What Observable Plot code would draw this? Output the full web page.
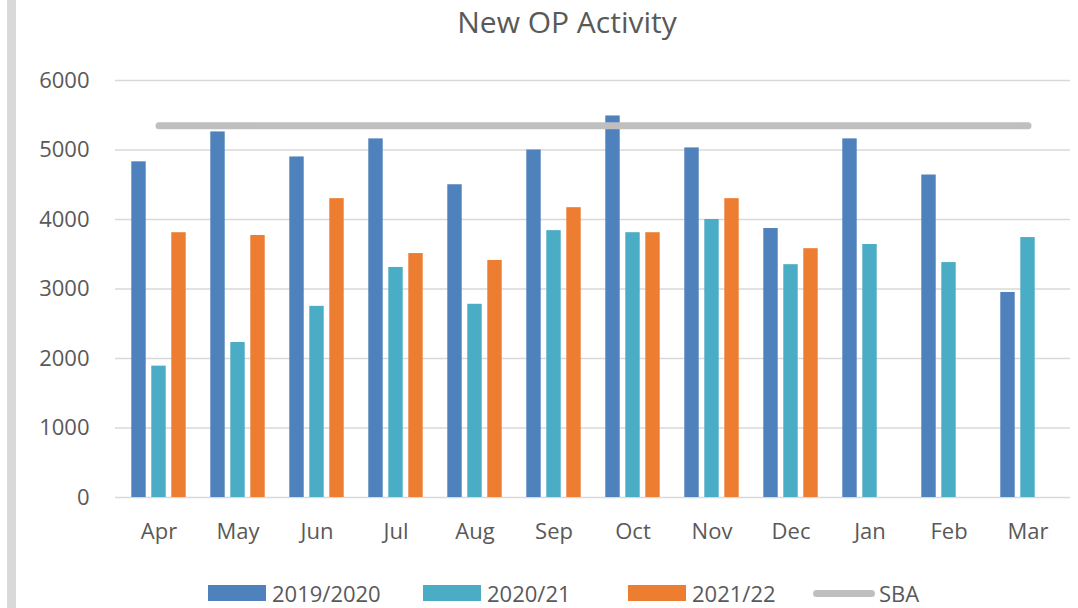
<!DOCTYPE html>
<html>
<head>
<meta charset="utf-8">
<script src="https://cdn.jsdelivr.net/npm/d3@7"></script>
<script src="https://cdn.jsdelivr.net/npm/@observablehq/plot@0.6"></script>
<style>
  html, body { margin: 0; padding: 0; background: #fff; }
  #wrap { position: relative; width: 1078px; height: 608px; overflow: hidden; font-family: "Open Sans", sans-serif; color: #595959; }
  #border { position: absolute; left: 7px; top: 0; width: 9px; height: 608px; background: #d9d9d9; }
  #title { position: absolute; top: 0; left: 28px; width: 1078px; text-align: center; font-size: 30px; line-height: 44px; }
  #chart { position: absolute; left: 0; top: 45px; }
  #legend { position: absolute; top: 579px; left: 0; width: 1078px; height: 28px; font-size: 22px; line-height: 28px; }
  .item { position: absolute; top: 0; display: flex; align-items: center; }
  .sw { width: 58px; height: 16px; margin-right: 6px; }
  .ln { width: 62px; height: 7px; border-radius: 4px; margin-right: 4px; }
</style>
</head>
<body>
<div id="wrap">
  <div id="border"></div>
  <div id="title">New OP Activity</div>
  <div id="chart"></div>
  <div id="legend"></div>
</div>
<script>
const months = ["Apr","May","Jun","Jul","Aug","Sep","Oct","Nov","Dec","Jan","Feb","Mar"];
const v2019 = [4830,5260,4900,5160,4500,5000,5490,5030,3870,5160,4640,2950];
const v2020 = [1890,2230,2750,3310,2780,3840,3810,4000,3350,3640,3380,3740];
const v2021 = [3810,3770,4300,3510,3410,4170,3810,4300,3580,null,null,null];
const sba   = [5350,5350,5350,5350,5350,5350,5350,5350,5350,5350,5350,5350];
const seriesNames = ["2019/2020","2020/21","2021/22","SBA"];
const seriesColors = ["#4f81bd","#4bacc6","#ed7d31","#bfbfbf"];
const yTicks = [0,1000,2000,3000,4000,5000,6000];

const rows = (vals) => months.map((m, i) => ({month: m, value: vals[i]})).filter(d => d.value != null);

const width = 1078, height = 520, mL = 115, mR = 8;
const band = (width - mL - mR) / months.length;
const barW = 15;
const inset = (band - barW) / 2;

const chart = Plot.plot({
  width, height,
  marginLeft: mL, marginRight: mR, marginTop: 35, marginBottom: 68,
  style: {fontFamily: "Open Sans, sans-serif", fontSize: "22px", color: "#595959", background: "transparent"},
  x: {domain: months, padding: 0, label: null},
  y: {domain: [0, 6000], label: null},
  marks: [
    Plot.ruleY(yTicks, {stroke: "#d9d9d9", strokeWidth: 1.5}),
    Plot.axisY({ticks: yTicks, tickSize: 0, tickPadding: 26, tickFormat: d => String(d), fill: "#595959", fontSize: 22}),
    Plot.axisX({tickSize: 0, tickPadding: 26, fill: "#595959", fontSize: 22}),
    Plot.barY(rows(v2019), {x: "month", y: "value", fill: seriesColors[0], dx: -20, insetLeft: inset, insetRight: inset}),
    Plot.barY(rows(v2020), {x: "month", y: "value", fill: seriesColors[1], dx: 0, insetLeft: inset, insetRight: inset}),
    Plot.barY(rows(v2021), {x: "month", y: "value", fill: seriesColors[2], dx: 20, insetLeft: inset, insetRight: inset}),
    Plot.lineY(rows(sba), {x: "month", y: "value", stroke: seriesColors[3], strokeWidth: 7, strokeLinecap: "round"})
  ]
});
document.getElementById("chart").appendChild(chart);

const legendLeft = [208, 423, 628, 813];
const legend = document.getElementById("legend");
seriesNames.forEach((name, i) => {
  const item = document.createElement("div");
  item.className = "item";
  item.style.left = legendLeft[i] + "px";
  const sw = document.createElement("div");
  sw.className = i === 3 ? "ln" : "sw";
  sw.style.background = seriesColors[i];
  const t = document.createElement("span");
  t.textContent = name;
  item.appendChild(sw); item.appendChild(t);
  legend.appendChild(item);
});
</script>
</body>
</html>
